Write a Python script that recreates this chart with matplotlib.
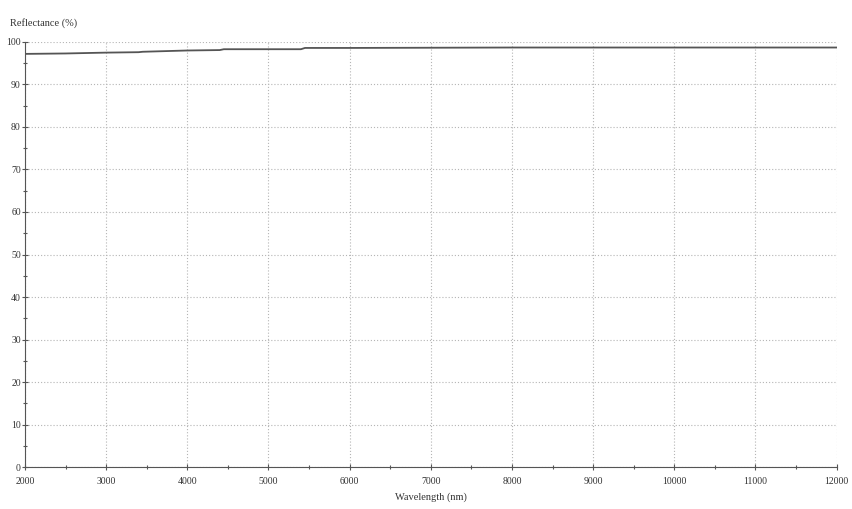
import matplotlib.pyplot as plt
import numpy as np
from matplotlib.ticker import MultipleLocator

# data
wavelength = [2000, 2500, 3000, 3400, 3450, 4000, 4400, 4450, 5000, 5400, 5450, 6000, 8000, 10000, 12000]
reflectance = [97.2, 97.3, 97.5, 97.6, 97.7, 98.0, 98.1, 98.3, 98.3, 98.3, 98.6, 98.6, 98.7, 98.7, 98.7]

plt.rcParams['font.family'] = ['Liberation Serif', 'DejaVu Serif']

fig = plt.figure(figsize=(8.52, 5.09), dpi=100)
ax = fig.add_axes([0.0293, 0.0825, 0.9527, 0.835])

ax.plot(wavelength, reflectance, color='#555555', linewidth=1.3)

ax.set_xlim(2000, 12000)
ax.set_ylim(0, 100)
ax.xaxis.set_major_locator(MultipleLocator(1000))
ax.xaxis.set_minor_locator(MultipleLocator(500))
ax.yaxis.set_major_locator(MultipleLocator(10))
ax.yaxis.set_minor_locator(MultipleLocator(5))

ax.grid(True, which='major', linestyle=(0, (1, 1.8)), color='#b5b5b5', linewidth=0.8)
ax.spines['top'].set_visible(False)
ax.spines['right'].set_visible(False)
ax.spines['left'].set_color('#555555')
ax.spines['bottom'].set_color('#555555')

ax.tick_params(which='both', direction='inout', length=4, width=0.8, colors='#555555',
               labelsize=7, labelcolor='#333333')
ax.tick_params(axis='x', pad=5)
ax.tick_params(axis='y', pad=1)
ax.tick_params(which='minor', length=3)

ax.set_xlabel('Wavelength (nm)', fontsize=7.5, color='#333333', labelpad=5)
fig.text(0.012, 0.955, 'Reflectance (%)', fontsize=7.5, color='#333333', ha='left', va='center')

fig.savefig('out.png', dpi=100, facecolor='white')
